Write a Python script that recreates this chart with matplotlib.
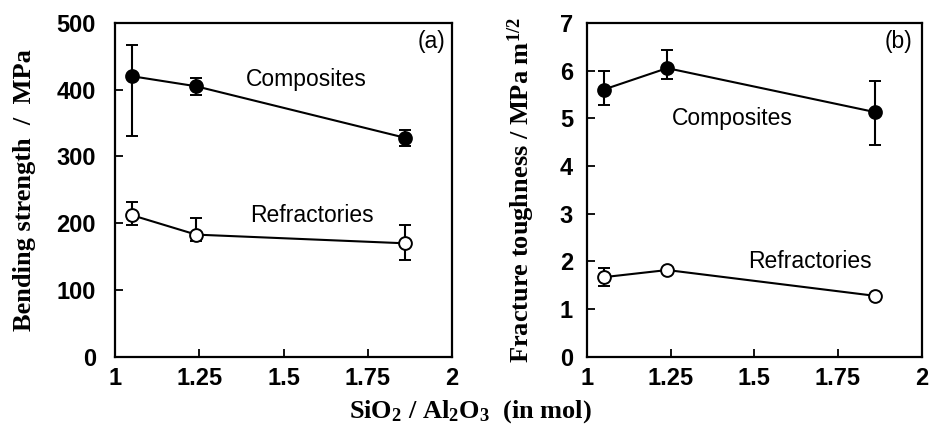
import numpy as np
import matplotlib
matplotlib.use("Agg")
import matplotlib.pyplot as plt

plt.rcParams["mathtext.fontset"] = "custom"
plt.rcParams["mathtext.rm"] = "Liberation Serif:bold"
plt.rcParams["mathtext.it"] = "Liberation Serif:bold"
plt.rcParams["mathtext.bf"] = "Liberation Serif:bold"

# SiO2/Al2O3 ratio (mol)
ratio = [1.05, 1.24, 1.86]

# (a) bending strength, MPa
bend_comp = [420, 405, 328]
bend_comp_lo = [90, 13, 12]
bend_comp_hi = [47, 13, 12]
bend_refr = [212, 183, 170]
bend_refr_lo = [15, 10, 25]
bend_refr_hi = [20, 25, 28]

# (b) fracture toughness, MPa m^1/2
tough_comp = [5.60, 6.05, 5.13]
tough_comp_lo = [0.33, 0.22, 0.69]
tough_comp_hi = [0.38, 0.38, 0.65]
tough_refr = [1.67, 1.82, 1.28]
tough_refr_lo = [0.18, 0.05, 0.04]
tough_refr_hi = [0.19, 0.05, 0.04]

xticks = [1, 1.25, 1.5, 1.75, 2]
xticklabels = ["1", "1.25", "1.5", "1.75", "2"]

tick_font = dict(family="Liberation Sans", weight="bold", size=17)
lab_font = dict(family="Liberation Serif", weight="bold", size=19)
note_font = dict(family="Liberation Sans", size=16.5)

fig = plt.figure(figsize=(9.3, 4.3), dpi=100)
ax1 = fig.add_axes([0.124, 0.170, 0.362, 0.777])
ax2 = fig.add_axes([0.631, 0.170, 0.360, 0.777])


def draw_series(ax, y, lo, hi, filled):
    ax.errorbar(ratio, y, yerr=[lo, hi], color="black", lw=1.5, elinewidth=1.5,
                capsize=4, capthick=1.5, marker="o", ms=9.2,
                mfc="black" if filled else "white", mec="black", mew=1.4, zorder=3)


draw_series(ax1, bend_comp, bend_comp_lo, bend_comp_hi, True)
draw_series(ax1, bend_refr, bend_refr_lo, bend_refr_hi, False)
draw_series(ax2, tough_comp, tough_comp_lo, tough_comp_hi, True)
draw_series(ax2, tough_refr, tough_refr_lo, tough_refr_hi, False)

ax1.set_ylim(0, 500)
ax1.set_yticks([0, 100, 200, 300, 400, 500])
ax2.set_ylim(0, 7)
ax2.set_yticks(range(8))

for ax in (ax1, ax2):
    ax.set_xlim(1, 2)
    ax.set_xticks(xticks)
    ax.set_xticklabels(xticklabels)
    ax.tick_params(direction="in", length=6, width=1.3, pad=7)
    for lab in ax.get_xticklabels() + ax.get_yticklabels():
        lab.set_fontproperties(matplotlib.font_manager.FontProperties(**tick_font))
    for s in ax.spines.values():
        s.set_linewidth(1.6)

ax1.tick_params(axis="y", pad=14)
ax2.tick_params(axis="y", pad=10)

ax1.set_ylabel("Bending strength  /  MPa", fontdict=lab_font, labelpad=15)
ax2.set_ylabel(r"Fracture toughness / MPa m$^{1/2}$", fontdict=lab_font, labelpad=16)

ax1.text(1.567, 415, "Composites", ha="center", va="center", **note_font)
ax1.text(1.585, 212, "Refractories", ha="center", va="center", **note_font)
ax1.text(1.94, 472, "(a)", ha="center", va="center", **note_font)
ax2.text(1.436, 5.0, "Composites", ha="center", va="center", **note_font)
ax2.text(1.666, 1.99, "Refractories", ha="center", va="center", **note_font)
ax2.text(1.93, 6.6, "(b)", ha="center", va="center", **note_font)

fig.text(0.506, 0.03, r"SiO$_2$ / Al$_2$O$_3$  (in mol)", ha="center", va="baseline", **lab_font)

fig.savefig("out.png", dpi=100)
